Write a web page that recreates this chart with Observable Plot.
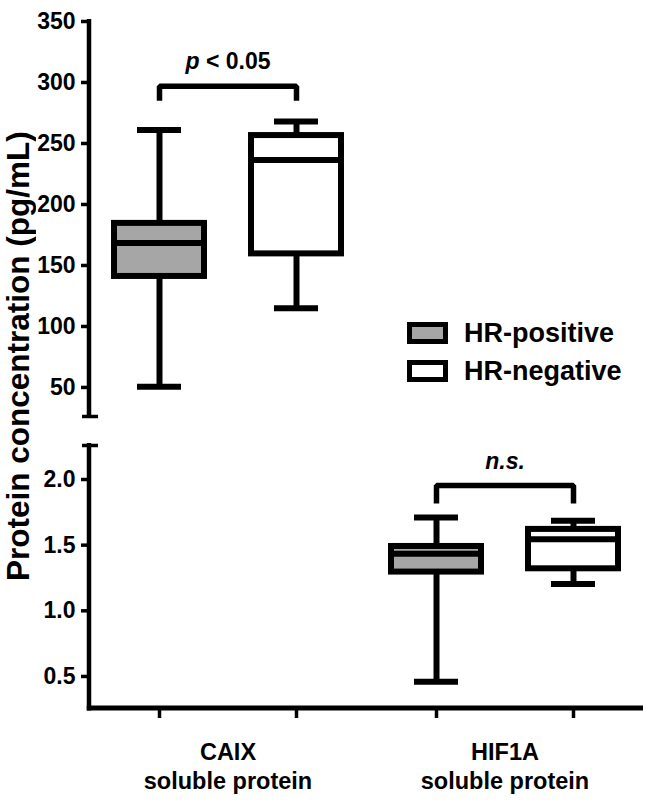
<!DOCTYPE html>
<html>
<head>
<meta charset="utf-8">
<script src="https://cdn.jsdelivr.net/npm/d3@7"></script>
<script src="https://cdn.jsdelivr.net/npm/@observablehq/plot@0.6"></script>
<style>
  body { margin: 0; background: #fff; }
  #chart { position: relative; width: 646px; height: 805px; background: #fff;
    font-family: "Liberation Sans", Arial, sans-serif; font-weight: bold; color: #000; }
  #chart svg { position: absolute; left: 0; overflow: visible; }
  #ytitle { position: absolute; left: 1px; top: 96px; width: 34px; height: 520px;
    writing-mode: vertical-rl; transform: rotate(180deg); text-align: center;
    white-space: nowrap; font-size: 31.5px; line-height: 34px; font-weight: bold; }
  #legend { position: absolute; left: 407px; top: 314px; }
  .lg-row { display: flex; align-items: center; height: 38px; font-size: 27px; }
  .lg-box { width: 41px; height: 22px; box-sizing: border-box; border: 5px solid #000; margin-right: 16px; }
</style>
</head>
<body>
<div id="chart"></div>
<script>
// ---- data ----
const groups = ["CAIX", "HIF1A"];
const groupLabels = ["CAIX\nsoluble protein", "HIF1A\nsoluble protein"];
const statuses = ["HR-positive", "HR-negative"];
const statusFills = ["#a6a6a6", "#ffffff"];
// box summaries: [min, q1, median, q3, max]
const caixPositive = [50.5, 141, 168.5, 184.5, 261];
const caixNegative = [115, 159.5, 236.5, 256.5, 268];
const hif1aPositive = [0.46, 1.295, 1.435, 1.49, 1.71];
const hif1aNegative = [1.205, 1.32, 1.545, 1.62, 1.685];
// broken y axis segments
const topTicks = [50, 100, 150, 200, 250, 300, 350];
const bottomTicks = [0.5, 1.0, 1.5, 2.0];
const topDomain = [26.2, 350];
const bottomDomain = [0.256, 2.259];
// significance annotations
const sigLabels = ["p < 0.05", "n.s."];
const sigItalic = ["p", "n.s."];
const bracketTop = [297, 1.954];
const bracketLeg = [285, 1.817];
const sigLabelY = [317, 2.133];
const yTitle = "Protein concentration (pg/mL)";

// ---- derived tables ----
function boxRows(group, pos, neg) {
  return [pos, neg].map((v, i) => ({group, status: statuses[i], min: v[0], q1: v[1], median: v[2], q3: v[3], max: v[4]}));
}
function bracketRows(gi) {
  const g = groups[gi];
  return [
    {group: g, status: statuses[0], y: bracketLeg[gi]},
    {group: g, status: statuses[0], y: bracketTop[gi]},
    {group: g, status: statuses[1], y: bracketTop[gi]},
    {group: g, status: statuses[1], y: bracketLeg[gi]}
  ];
}
const labelRows = [0, 1].map(i => ({group: groups[i], label: sigLabels[i], y: sigLabelY[i]}));
const groupRows = groups.map((g, i) => ({group: g, label: groupLabels[i]}));

const font = '"Liberation Sans", Arial, sans-serif';
const fxScale = {domain: groups, paddingInner: 0, paddingOuter: 0, axis: null};
const xScale = {type: "band", domain: statuses, paddingInner: 0.34, paddingOuter: 0.1737, axis: null};
const colorScale = {domain: statuses, range: statusFills};
const W = 6;
const blank = () => "";

function boxMarks(rows) {
  return [
    Plot.ruleX(rows, {fx: "group", x: "status", y1: "min", y2: "q1", stroke: "#000", strokeWidth: W}),
    Plot.ruleX(rows, {fx: "group", x: "status", y1: "q3", y2: "max", stroke: "#000", strokeWidth: W}),
    Plot.barY(rows, {fx: "group", x: "status", y1: "q1", y2: "q3", fill: "status", stroke: "#000", strokeWidth: W}),
    Plot.tickY(rows, {fx: "group", x: "status", y: "median", stroke: "#000", strokeWidth: W}),
    Plot.tickY(rows, {fx: "group", x: "status", y: "min", stroke: "#000", strokeWidth: W, insetLeft: 23, insetRight: 23}),
    Plot.tickY(rows, {fx: "group", x: "status", y: "max", stroke: "#000", strokeWidth: W, insetLeft: 23, insetRight: 23})
  ];
}
function sigMarks(gi) {
  return [
    Plot.line(bracketRows(gi), {fx: "group", x: "status", y: "y", stroke: "#000", strokeWidth: 5.5, strokeLinejoin: "miter", strokeLinecap: "butt"}),
    Plot.text(labelRows.filter((d, i) => i === gi), {fx: "group", y: "y", text: "label", fontSize: 23, fontWeight: "bold", lineAnchor: "middle"})
  ];
}
function yAxisMarks(ticks, breakValue) {
  return [
    Plot.axisY({ticks, tickSize: 8, tickPadding: 6, strokeWidth: 3.5, fontSize: 23, fontWeight: "bold", label: null,
      tickFormat: d => d3.format(ticks[0] < 1 ? ".1f" : "d")(d)}),
    Plot.axisY({ticks: [breakValue], tickSize: 16, dx: 9, strokeWidth: 3.5, tickFormat: blank, label: null})
  ];
}
const style = {fontFamily: font, fontWeight: "bold", fontSize: "23px", color: "#000", background: "transparent", overflow: "visible"};

const topPlot = Plot.plot({
  width: 646, height: 426, marginTop: 21, marginBottom: 10, marginLeft: 89, marginRight: 3,
  fx: fxScale, x: xScale, y: {domain: topDomain}, color: colorScale, style,
  marks: [
    ...yAxisMarks(topTicks, topDomain[0]),
    ...boxMarks(boxRows(groups[0], caixPositive, caixNegative)),
    ...sigMarks(0)
  ]
});

const bottomPlot = Plot.plot({
  width: 646, height: 379, marginTop: 19, marginBottom: 97, marginLeft: 89, marginRight: 3,
  fx: fxScale, x: xScale, y: {domain: bottomDomain}, color: colorScale, style,
  marks: [
    ...yAxisMarks(bottomTicks, bottomDomain[1]),
    Plot.axisX({tickSize: 10, strokeWidth: 3.5, tickFormat: blank, label: null}),
    ...boxMarks(boxRows(groups[1], hif1aPositive, hif1aNegative)),
    ...sigMarks(1),
    Plot.text(groupRows, {fx: "group", text: "label", frameAnchor: "bottom", lineAnchor: "top", dy: 31, lineHeight: 1.22, fontSize: 23.5, fontWeight: "bold"})
  ]
});

// axis lines, placed from the plots' own scale ranges
function axisLines(svg, withBottom) {
  const [yb, yt] = svg.scale("y").range;
  const [x0, x1] = svg.scale("fx").range;
  const g = d3.select(svg).append("g").attr("stroke", "#000").attr("fill", "none");
  g.append("line").attr("x1", x0).attr("x2", x0).attr("y1", withBottom ? yb + 2.5 : yb).attr("y2", yt - 2)
    .attr("stroke-width", 4.5);
  if (withBottom) {
    g.append("line").attr("x1", x0 - 2.25).attr("x2", x1).attr("y1", yb).attr("y2", yb).attr("stroke-width", 5);
  }
}
axisLines(topPlot, false);
axisLines(bottomPlot, true);

function italicize(svg) {
  for (const t of svg.querySelectorAll("text")) {
    const i = sigLabels.indexOf(t.textContent);
    if (i < 0) continue;
    const it = sigItalic[i];
    const rest = sigLabels[i].slice(it.length);
    t.textContent = "";
    const span = document.createElementNS("http://www.w3.org/2000/svg", "tspan");
    span.setAttribute("font-style", "italic");
    span.textContent = it;
    t.appendChild(span);
    if (rest) t.appendChild(document.createTextNode(rest));
  }
}
italicize(topPlot);
italicize(bottomPlot);

const chart = document.getElementById("chart");
topPlot.style.top = "0px";
bottomPlot.style.top = "426px";
chart.appendChild(topPlot);
chart.appendChild(bottomPlot);

const title = document.createElement("div");
title.id = "ytitle";
title.textContent = yTitle;
chart.appendChild(title);

const legend = document.createElement("div");
legend.id = "legend";
statuses.forEach((s, i) => {
  const row = document.createElement("div");
  row.className = "lg-row";
  const box = document.createElement("div");
  box.className = "lg-box";
  box.style.background = statusFills[i];
  const lab = document.createElement("span");
  lab.textContent = s;
  row.appendChild(box);
  row.appendChild(lab);
  legend.appendChild(row);
});
chart.appendChild(legend);
</script>
</body>
</html>
